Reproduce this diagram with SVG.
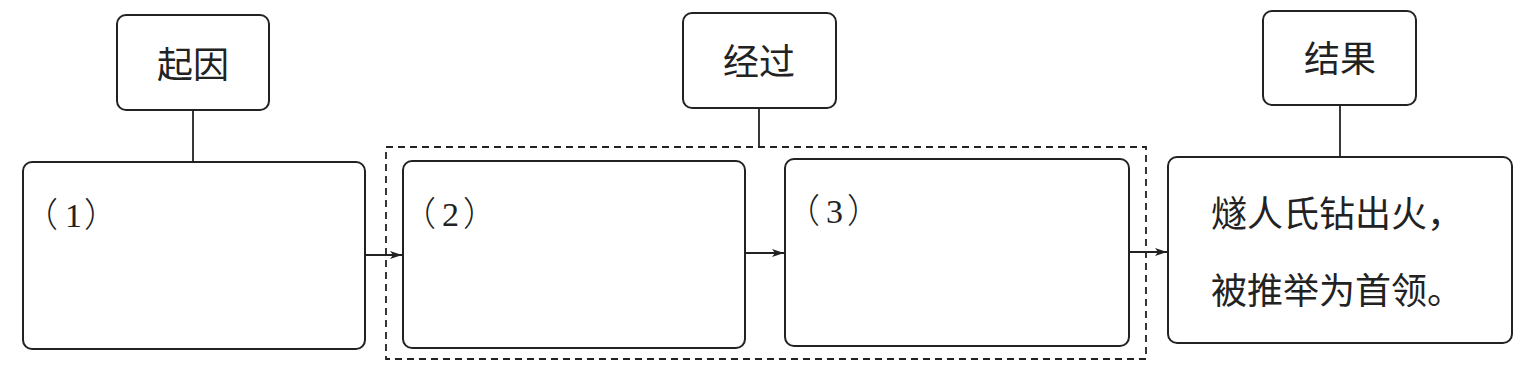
<svg xmlns="http://www.w3.org/2000/svg" width="1528" height="368" viewBox="0 0 1528 368">
<style>
.box{fill:#fff;stroke:#222;stroke-width:2}
.ln{stroke:#222;stroke-width:1.8;fill:none}
.dash{fill:none;stroke:#222;stroke-width:1.8;stroke-dasharray:7 5}
.t{font-family:"Noto Sans CJK SC","Noto Sans",sans-serif;font-size:36px;fill:#222}
.n{font-family:"Liberation Serif","Noto Sans CJK SC",serif;font-size:34px;fill:#222}
.p{font-family:"Noto Sans CJK SC",sans-serif;font-weight:300}
</style>
<defs>
<marker id="ah" viewBox="0 0 12 8" refX="12" refY="4" markerWidth="12" markerHeight="8" markerUnits="userSpaceOnUse" orient="auto">
<path d="M0,0 L12,4 L0,8 L3,4 Z" fill="#222"/>
</marker>
</defs>
<rect x="0" y="0" width="1528" height="368" fill="#fff"/>
<g id="connectors">
<line class="ln" x1="193" y1="110" x2="193" y2="162"/>
<line class="ln" x1="759" y1="108" x2="759" y2="147"/>
<line class="ln" x1="1340" y1="105" x2="1340" y2="157"/>
<line class="ln" x1="365" y1="255" x2="402" y2="255" marker-end="url(#ah)"/>
<line class="ln" x1="745" y1="253" x2="784" y2="253" marker-end="url(#ah)"/>
<line class="ln" x1="1129" y1="252" x2="1167" y2="252" marker-end="url(#ah)"/>
</g>
<g id="group-jingguo">
<rect class="dash" x="386" y="147" width="760" height="212"/>
</g>
<g id="qiyin">
<rect class="box" x="117" y="15" width="152" height="95" rx="9"/>
<text class="t" x="193" y="78" text-anchor="middle">起因</text>
</g>
<g id="jingguo">
<rect class="box" x="683" y="13" width="153" height="95" rx="9"/>
<text class="t" x="759" y="75" text-anchor="middle">经过</text>
</g>
<g id="jieguo">
<rect class="box" x="1263" y="11" width="153" height="94" rx="9"/>
<text class="t" x="1340" y="72" text-anchor="middle">结果</text>
</g>
<g id="box1">
<rect class="box" x="23" y="162" width="342" height="187" rx="9"/>
<text class="n" y="227"><tspan class="p" x="24">（</tspan><tspan x="65">1</tspan><tspan class="p" x="84">）</tspan></text>
</g>
<g id="box2">
<rect class="box" x="403" y="161" width="342" height="187" rx="9"/>
<text class="n" y="226"><tspan class="p" x="402">（</tspan><tspan x="442">2</tspan><tspan class="p" x="463">）</tspan></text>
</g>
<g id="box3">
<rect class="box" x="785" y="159" width="344" height="187" rx="9"/>
<text class="n" y="223"><tspan class="p" x="786">（</tspan><tspan x="826">3</tspan><tspan class="p" x="847">）</tspan></text>
</g>
<g id="box4">
<rect class="box" x="1168" y="157" width="344" height="186" rx="9"/>
<text class="t" x="1211" y="227">燧人氏钻出火，</text>
<text class="t" x="1211" y="304">被推举为首领。</text>
</g>
</svg>
